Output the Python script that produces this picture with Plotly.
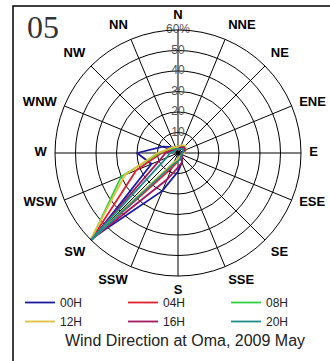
import plotly.graph_objects as go

# 16 compass points, clockwise from north ("NN" is how the source labels NNW)
DIRECTIONS = ['N', 'NNE', 'NE', 'ENE', 'E', 'ESE', 'SE', 'SSE',
              'S', 'SSW', 'SW', 'WSW', 'W', 'WNW', 'NW', 'NN']

# frequency (%) of each wind direction, per observation hour
H00 = [2, 2, 3, 3, 2, 2, 3, 5, 9, 20, 58, 14, 20, 8, 4, 2]
H04 = [2, 3, 4, 4, 3, 2, 2, 3, 4, 8, 60, 22, 8, 4, 2, 2]
H08 = [3, 4, 5, 4, 3, 2, 2, 2, 3, 5, 60, 30, 9, 5, 3, 3]
H12 = [3, 4, 5, 4, 3, 2, 2, 2, 3, 5, 61, 28, 10, 5, 4, 3]
H16 = [2, 3, 4, 4, 2, 2, 3, 5, 7, 14, 60, 10, 6, 3, 2, 2]
H20 = [2, 2, 3, 3, 2, 2, 2, 3, 4, 6, 63, 6, 4, 2, 2, 2]

SERIES = {'00H': H00, '04H': H04, '08H': H08, '12H': H12, '16H': H16, '20H': H20}
COLORS = {'00H': '#1a1aa0', '04H': '#e02030', '08H': '#30d040',
          '12H': '#e0c040', '16H': '#a01860', '20H': '#208c8c'}

RADIAL_TICKS = [10, 20, 30, 40, 50, 60]
RADIAL_TEXT = ['10', '20', '30', '40', '50', '60%']

W, H = 330, 361
CX, CY, R = 178, 153, 123      # plot centre and outer ring radius, in pixels
LABEL_R = 64                   # compass labels sit just outside the 60% ring
OUTER = 70                     # range of the helper polar that carries the labels


def domain(radius_px):
    return dict(x=[(CX - radius_px) / W, (CX + radius_px) / W],
                y=[1 - (CY + radius_px) / H, 1 - (CY - radius_px) / H])


def label_position(i):
    '''
    Where to put a compass label relative to its anchor, from its angle.
    '''
    ang = i * 22.5
    vert = 'top' if ang < 67 or ang > 293 else ('bottom' if 113 < ang < 247 else 'middle')
    if ang in (0, 180):
        horiz = 'center'
    elif ang < 180:
        horiz = 'right'
    else:
        horiz = 'left'
    return f'{vert} {horiz}'


fig = go.Figure()

for name, values in SERIES.items():
    fig.add_trace(go.Scatterpolar(
        r=values + values[:1], theta=DIRECTIONS + DIRECTIONS[:1],
        mode='lines', name=name, cliponaxis=False,
        line=dict(color=COLORS[name], width=1.8)))

# radial scale labels along the north spoke
fig.add_trace(go.Scatterpolar(
    r=RADIAL_TICKS, theta=['N'] * len(RADIAL_TICKS), mode='text',
    text=RADIAL_TEXT, textposition='middle center',
    textfont=dict(family='Liberation Sans', size=12, color='#555'),
    cliponaxis=False, showlegend=False, hoverinfo='skip'))

# compass labels, on a second (invisible) polar with a wider range
fig.add_trace(go.Scatterpolar(
    r=[LABEL_R] * len(DIRECTIONS), theta=DIRECTIONS, mode='text', subplot='polar2',
    text=DIRECTIONS, textposition=[label_position(i) for i in range(len(DIRECTIONS))],
    textfont=dict(family='Liberation Sans', size=13, color='#000', weight='bold'),
    showlegend=False, hoverinfo='skip'))

hidden_radial = dict(range=[0, OUTER], visible=False, showgrid=False)
hidden_angular = dict(direction='clockwise', rotation=90, type='category',
                      categoryarray=DIRECTIONS, visible=False, showgrid=False)

fig.update_layout(
    width=W, height=H,
    margin=dict(l=0, r=0, t=0, b=0),
    paper_bgcolor='white',
    font=dict(family='Liberation Sans', size=12, color='#222'),
    polar=dict(
        domain=domain(R),
        bgcolor='white',
        radialaxis=dict(range=[0, 60], tickvals=RADIAL_TICKS, showticklabels=False,
                        ticks='', showline=False, gridcolor='black', gridwidth=1),
        angularaxis=dict(direction='clockwise', rotation=90, type='category',
                         categoryarray=DIRECTIONS, showticklabels=False, ticks='',
                         showline=True, linecolor='black', linewidth=1,
                         gridcolor='black', gridwidth=1),
    ),
    polar2=dict(domain=domain(R * OUTER / 60), bgcolor='rgba(0,0,0,0)',
                radialaxis=hidden_radial, angularaxis=hidden_angular),
    legend=dict(orientation='h', x=20 / W, xanchor='left', y=1 - 288 / H, yanchor='top',
                entrywidth=58, font=dict(size=12, color='#222'),
                bgcolor='rgba(0,0,0,0)', itemwidth=30),
    title=dict(text='Wind Direction at Oma, 2009 May', x=185 / W, xanchor='center',
               y=1 - 340 / H, yanchor='middle', yref='container',
               font=dict(family='Liberation Sans', size=16, color='#222')),
    shapes=[dict(type='rect', xref='paper', yref='paper',
                 x0=13 / W, x1=1.02, y0=-0.02, y1=1 - 6 / H,
                 line=dict(color='black', width=1.5))],
    annotations=[dict(text='05', x=25 / W, y=1 - 27 / H, xref='paper', yref='paper',
                      xanchor='left', yanchor='middle', showarrow=False,
                      font=dict(family='Liberation Serif', size=32, color='#333'))],
)

# drop the browser's default page margin so the figure sits at the window's corner
fig.write_html('out.html', config={'displayModeBar': False},
               post_script="document.body.style.margin = '0';")
